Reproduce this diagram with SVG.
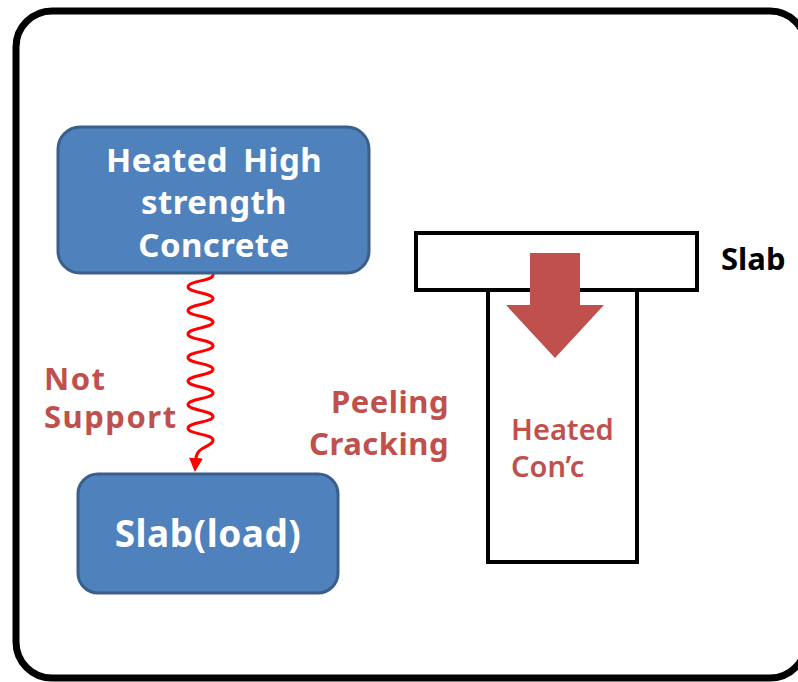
<svg xmlns="http://www.w3.org/2000/svg" width="798" height="682" viewBox="0 0 798 682">
  <defs>
    <style>
      .box { fill: #4F81BD; stroke: #3A5F8B; stroke-width: 3; }
      .boxtext { font-family: "Noto Sans", "Liberation Sans", sans-serif; font-weight: bold; fill: #FFFFFF; text-anchor: middle; }
      .redtext { font-family: "Noto Sans", "Liberation Sans", sans-serif; font-weight: bold; fill: #C0504D; }
      .outline { fill: #FFFFFF; stroke: #000000; stroke-width: 4; }
      .wave { fill: none; stroke: #FF0000; stroke-width: 3; stroke-linecap: round; }
    </style>
    <marker id="redHead" markerUnits="userSpaceOnUse" markerWidth="16" markerHeight="16" refX="0" refY="7" orient="auto">
      <path d="M0,0 L14,7 L0,14 z" fill="#FF0000"/>
    </marker>
  </defs>

  <!-- frame -->
  <rect x="16" y="11" width="790" height="667" rx="36" ry="36" fill="#FFFFFF" stroke="#000000" stroke-width="7"/>

  <!-- connectors -->
  <g id="connectors">
    <path class="wave" marker-end="url(#redHead)" d="M213,275 C213,280.9 188,280.9 188,286.8 S213,292.7 213,298.6 S188,304.5 188,310.4 S213,316.3 213,322.1 S188,328 188,333.9 S213,339.8 213,345.7 S188,351.6 188,357.5 S213,363.4 213,369.3 S188,375.2 188,381.1 S213,387 213,392.9 S188,398.8 188,404.6 S213,410.5 213,416.4 S188,422.3 188,428.2 S213,434.1 213,440 C213,447 197,446 196,458"/>
  </g>

  <!-- source node -->
  <g id="node-heated-concrete">
    <rect class="box" x="58" y="127" width="311" height="146" rx="22" ry="22"/>
    <text class="boxtext" font-size="33" letter-spacing="0.4" word-spacing="6" x="214" y="172">Heated High</text>
    <text class="boxtext" font-size="33" letter-spacing="0.4" x="214" y="214">strength</text>
    <text class="boxtext" font-size="33" letter-spacing="0.4" x="214" y="257">Concrete</text>
  </g>

  <!-- target node -->
  <g id="node-slab-load">
    <rect class="box" x="78" y="474" width="260" height="119" rx="20" ry="20"/>
    <text class="boxtext" font-size="37" font-weight="600" letter-spacing="0.5" x="208" y="547">Slab(load)</text>
  </g>

  <!-- connector label -->
  <g id="label-not-support">
    <text class="redtext" font-size="31" letter-spacing="1.5" x="44" y="390">Not</text>
    <text class="redtext" font-size="31" letter-spacing="1.5" x="44" y="428">Support</text>
  </g>

  <!-- side label -->
  <g id="label-peeling-cracking">
    <text class="redtext" font-size="31" letter-spacing="0.5" text-anchor="end" x="449" y="413">Peeling</text>
    <text class="redtext" font-size="31" letter-spacing="0.5" text-anchor="end" x="449" y="455">Cracking</text>
  </g>

  <!-- slab and column section -->
  <g id="section">
    <rect class="outline" x="488" y="290" width="149" height="272"/>
    <rect class="outline" x="416" y="233" width="281" height="57"/>
    <path d="M530,253 L580,253 L580,305 L604,305 L555,358 L506,305 L530,305 z" fill="#C0504D"/>
    <text font-family="'Noto Sans', 'Liberation Sans', sans-serif" font-weight="bold" font-size="31" fill="#000000" x="721" y="270">Slab</text>
    <text font-family="'Noto Sans', 'Liberation Sans', sans-serif" font-weight="600" font-size="29" fill="#C0504D" x="511" y="440">Heated</text>
    <text font-family="'Noto Sans', 'Liberation Sans', sans-serif" font-weight="600" font-size="29" fill="#C0504D" x="511" y="477">Con’c</text>
  </g>
</svg>
